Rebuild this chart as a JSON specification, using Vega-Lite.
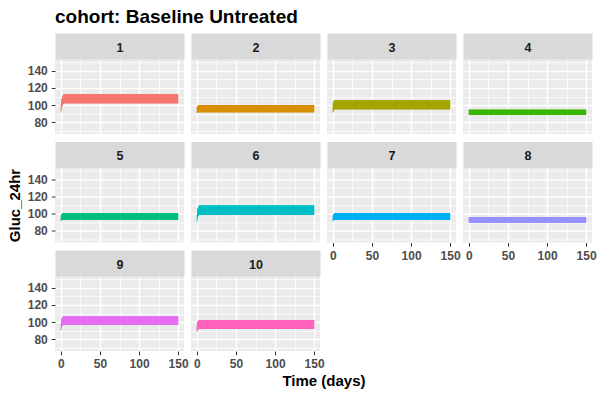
{
"$schema":"https://vega.github.io/schema/vega-lite/v6.json",
"title":{"text":"cohort: Baseline Untreated","anchor":"start","frame":"group","fontSize":19,"fontWeight":"bold","color":"black","font":"Liberation Sans","offset":14},
"padding":{"left":7,"top":8,"right":5,"bottom":5},
"background":"white",
"datasets":{"glu":[
{"patient":"1","t":0,"lo":90,"hi":100},{"patient":"1","t":1,"lo":97,"hi":107},{"patient":"1","t":3,"lo":101.5,"hi":112},{"patient":"1","t":5,"lo":102,"hi":113},{"patient":"1","t":150,"lo":102,"hi":113},
{"patient":"2","t":0,"lo":90,"hi":97},{"patient":"2","t":1,"lo":91.5,"hi":99},{"patient":"2","t":3,"lo":91.5,"hi":100},{"patient":"2","t":150,"lo":91.5,"hi":100},
{"patient":"3","t":0,"lo":90.5,"hi":102},{"patient":"3","t":1,"lo":94,"hi":104.5},{"patient":"3","t":3,"lo":95,"hi":106},{"patient":"3","t":150,"lo":95,"hi":106},
{"patient":"4","t":0,"lo":88.5,"hi":94.5},{"patient":"4","t":150,"lo":88.5,"hi":94.5},
{"patient":"5","t":0,"lo":91,"hi":97},{"patient":"5","t":1,"lo":92,"hi":99.5},{"patient":"5","t":3,"lo":92.6,"hi":100.4},{"patient":"5","t":150,"lo":92.6,"hi":100.4},
{"patient":"6","t":0,"lo":89,"hi":98},{"patient":"6","t":1,"lo":96,"hi":106},{"patient":"6","t":3,"lo":98.5,"hi":109.3},{"patient":"6","t":150,"lo":98.5,"hi":109.3},
{"patient":"7","t":0,"lo":90.7,"hi":97},{"patient":"7","t":1,"lo":92.6,"hi":99.5},{"patient":"7","t":3,"lo":92.6,"hi":100.3},{"patient":"7","t":150,"lo":92.6,"hi":100.3},
{"patient":"8","t":0,"lo":89.1,"hi":95.7},{"patient":"8","t":150,"lo":89.1,"hi":95.7},
{"patient":"9","t":0,"lo":88.7,"hi":97},{"patient":"9","t":1,"lo":95,"hi":104},{"patient":"9","t":3,"lo":96.5,"hi":106.6},{"patient":"9","t":150,"lo":96.5,"hi":106.6},
{"patient":"10","t":0,"lo":88,"hi":96},{"patient":"10","t":1,"lo":91,"hi":100.5},{"patient":"10","t":3,"lo":91.9,"hi":102.3},{"patient":"10","t":150,"lo":91.9,"hi":102.3}
]},
"data":{"name":"glu"},
"columns":4,
"bounds":"flush",
"spacing":{"row":33.5,"column":7},
"concat":[
{"width":129,"height":75,"transform":[{"filter":"datum.patient == '1'"}],"layer":[
 {"mark":{"type":"area"},"encoding":{"x":{"field":"t","type":"quantitative","scale":{"domain":[-7.5,157.5],"nice":false,"zero":false},"axis":{"values":[0,50,100,150],"grid":true,"gridWidth":1.4,"labels":false,"ticks":false,"title":null}},"y":{"field":"lo","type":"quantitative","scale":{"domain":[66,154],"nice":false,"zero":false},"axis":{"values":[80,100,120,140],"grid":true,"gridWidth":1.4,"title":null}},"y2":{"field":"hi"},"color":{"field":"patient","type":"nominal","scale":{"domain":["1","2","3","4","5","6","7","8","9","10"],"range":["#F8766D","#D89000","#A3A500","#39B600","#00BF7D","#00BFC4","#00B0F6","#9590FF","#E76BF3","#FF62BC"]},"legend":null}}},
 {"mark":{"type":"area"},"encoding":{"x":{"field":"t","type":"quantitative","axis":{"orient":"top","grid":false,"labels":false,"ticks":false,"domain":true,"domainColor":"#D9D9D9","domainWidth":26,"offset":13,"title":"1","titleY":1,"titleBaseline":"middle","titleFontSize":12.5,"titleColor":"#1A1A1A"}},"y":{"field":"lo","type":"quantitative","axis":{"orient":"right","values":[70,90,110,130,150],"grid":true,"gridWidth":0.7,"labels":false,"ticks":false,"title":null}},"y2":{"field":"hi"},"color":{"field":"patient","type":"nominal","legend":null}}},
 {"mark":{"type":"area"},"encoding":{"x":{"field":"t","type":"quantitative","axis":{"orient":"bottom","values":[25,75,125],"grid":true,"gridWidth":0.7,"labels":false,"ticks":false,"title":null}},"y":{"field":"lo","type":"quantitative","axis":null},"y2":{"field":"hi"},"color":{"field":"patient","type":"nominal","legend":null}}}
],"resolve":{"axis":{"x":"independent","y":"independent"}}},
{"width":129,"height":75,"transform":[{"filter":"datum.patient == '2'"}],"layer":[
 {"mark":{"type":"area"},"encoding":{"x":{"field":"t","type":"quantitative","scale":{"domain":[-7.5,157.5],"nice":false,"zero":false},"axis":{"values":[0,50,100,150],"grid":true,"gridWidth":1.4,"labels":false,"ticks":false,"title":null}},"y":{"field":"lo","type":"quantitative","scale":{"domain":[66,154],"nice":false,"zero":false},"axis":{"values":[80,100,120,140],"grid":true,"gridWidth":1.4,"labels":false,"ticks":false,"title":null}},"y2":{"field":"hi"},"color":{"field":"patient","type":"nominal","scale":{"domain":["1","2","3","4","5","6","7","8","9","10"],"range":["#F8766D","#D89000","#A3A500","#39B600","#00BF7D","#00BFC4","#00B0F6","#9590FF","#E76BF3","#FF62BC"]},"legend":null}}},
 {"mark":{"type":"area"},"encoding":{"x":{"field":"t","type":"quantitative","axis":{"orient":"top","grid":false,"labels":false,"ticks":false,"domain":true,"domainColor":"#D9D9D9","domainWidth":26,"offset":13,"title":"2","titleY":1,"titleBaseline":"middle","titleFontSize":12.5,"titleColor":"#1A1A1A"}},"y":{"field":"lo","type":"quantitative","axis":{"orient":"right","values":[70,90,110,130,150],"grid":true,"gridWidth":0.7,"labels":false,"ticks":false,"title":null}},"y2":{"field":"hi"},"color":{"field":"patient","type":"nominal","legend":null}}},
 {"mark":{"type":"area"},"encoding":{"x":{"field":"t","type":"quantitative","axis":{"orient":"bottom","values":[25,75,125],"grid":true,"gridWidth":0.7,"labels":false,"ticks":false,"title":null}},"y":{"field":"lo","type":"quantitative","axis":null},"y2":{"field":"hi"},"color":{"field":"patient","type":"nominal","legend":null}}}
],"resolve":{"axis":{"x":"independent","y":"independent"}}},
{"width":129,"height":75,"transform":[{"filter":"datum.patient == '3'"}],"layer":[
 {"mark":{"type":"area"},"encoding":{"x":{"field":"t","type":"quantitative","scale":{"domain":[-7.5,157.5],"nice":false,"zero":false},"axis":{"values":[0,50,100,150],"grid":true,"gridWidth":1.4,"labels":false,"ticks":false,"title":null}},"y":{"field":"lo","type":"quantitative","scale":{"domain":[66,154],"nice":false,"zero":false},"axis":{"values":[80,100,120,140],"grid":true,"gridWidth":1.4,"labels":false,"ticks":false,"title":null}},"y2":{"field":"hi"},"color":{"field":"patient","type":"nominal","scale":{"domain":["1","2","3","4","5","6","7","8","9","10"],"range":["#F8766D","#D89000","#A3A500","#39B600","#00BF7D","#00BFC4","#00B0F6","#9590FF","#E76BF3","#FF62BC"]},"legend":null}}},
 {"mark":{"type":"area"},"encoding":{"x":{"field":"t","type":"quantitative","axis":{"orient":"top","grid":false,"labels":false,"ticks":false,"domain":true,"domainColor":"#D9D9D9","domainWidth":26,"offset":13,"title":"3","titleY":1,"titleBaseline":"middle","titleFontSize":12.5,"titleColor":"#1A1A1A"}},"y":{"field":"lo","type":"quantitative","axis":{"orient":"right","values":[70,90,110,130,150],"grid":true,"gridWidth":0.7,"labels":false,"ticks":false,"title":null}},"y2":{"field":"hi"},"color":{"field":"patient","type":"nominal","legend":null}}},
 {"mark":{"type":"area"},"encoding":{"x":{"field":"t","type":"quantitative","axis":{"orient":"bottom","values":[25,75,125],"grid":true,"gridWidth":0.7,"labels":false,"ticks":false,"title":null}},"y":{"field":"lo","type":"quantitative","axis":null},"y2":{"field":"hi"},"color":{"field":"patient","type":"nominal","legend":null}}}
],"resolve":{"axis":{"x":"independent","y":"independent"}}},
{"width":129,"height":75,"transform":[{"filter":"datum.patient == '4'"}],"layer":[
 {"mark":{"type":"area"},"encoding":{"x":{"field":"t","type":"quantitative","scale":{"domain":[-7.5,157.5],"nice":false,"zero":false},"axis":{"values":[0,50,100,150],"grid":true,"gridWidth":1.4,"labels":false,"ticks":false,"title":null}},"y":{"field":"lo","type":"quantitative","scale":{"domain":[66,154],"nice":false,"zero":false},"axis":{"values":[80,100,120,140],"grid":true,"gridWidth":1.4,"labels":false,"ticks":false,"title":null}},"y2":{"field":"hi"},"color":{"field":"patient","type":"nominal","scale":{"domain":["1","2","3","4","5","6","7","8","9","10"],"range":["#F8766D","#D89000","#A3A500","#39B600","#00BF7D","#00BFC4","#00B0F6","#9590FF","#E76BF3","#FF62BC"]},"legend":null}}},
 {"mark":{"type":"area"},"encoding":{"x":{"field":"t","type":"quantitative","axis":{"orient":"top","grid":false,"labels":false,"ticks":false,"domain":true,"domainColor":"#D9D9D9","domainWidth":26,"offset":13,"title":"4","titleY":1,"titleBaseline":"middle","titleFontSize":12.5,"titleColor":"#1A1A1A"}},"y":{"field":"lo","type":"quantitative","axis":{"orient":"right","values":[70,90,110,130,150],"grid":true,"gridWidth":0.7,"labels":false,"ticks":false,"title":null}},"y2":{"field":"hi"},"color":{"field":"patient","type":"nominal","legend":null}}},
 {"mark":{"type":"area"},"encoding":{"x":{"field":"t","type":"quantitative","axis":{"orient":"bottom","values":[25,75,125],"grid":true,"gridWidth":0.7,"labels":false,"ticks":false,"title":null}},"y":{"field":"lo","type":"quantitative","axis":null},"y2":{"field":"hi"},"color":{"field":"patient","type":"nominal","legend":null}}}
],"resolve":{"axis":{"x":"independent","y":"independent"}}},
{"width":129,"height":75,"transform":[{"filter":"datum.patient == '5'"}],"layer":[
 {"mark":{"type":"area"},"encoding":{"x":{"field":"t","type":"quantitative","scale":{"domain":[-7.5,157.5],"nice":false,"zero":false},"axis":{"values":[0,50,100,150],"grid":true,"gridWidth":1.4,"labels":false,"ticks":false,"title":null}},"y":{"field":"lo","type":"quantitative","scale":{"domain":[66,154],"nice":false,"zero":false},"axis":{"values":[80,100,120,140],"grid":true,"gridWidth":1.4,"title":"Gluc_24hr","titlePadding":5}},"y2":{"field":"hi"},"color":{"field":"patient","type":"nominal","scale":{"domain":["1","2","3","4","5","6","7","8","9","10"],"range":["#F8766D","#D89000","#A3A500","#39B600","#00BF7D","#00BFC4","#00B0F6","#9590FF","#E76BF3","#FF62BC"]},"legend":null}}},
 {"mark":{"type":"area"},"encoding":{"x":{"field":"t","type":"quantitative","axis":{"orient":"top","grid":false,"labels":false,"ticks":false,"domain":true,"domainColor":"#D9D9D9","domainWidth":26,"offset":13,"title":"5","titleY":1,"titleBaseline":"middle","titleFontSize":12.5,"titleColor":"#1A1A1A"}},"y":{"field":"lo","type":"quantitative","axis":{"orient":"right","values":[70,90,110,130,150],"grid":true,"gridWidth":0.7,"labels":false,"ticks":false,"title":null}},"y2":{"field":"hi"},"color":{"field":"patient","type":"nominal","legend":null}}},
 {"mark":{"type":"area"},"encoding":{"x":{"field":"t","type":"quantitative","axis":{"orient":"bottom","values":[25,75,125],"grid":true,"gridWidth":0.7,"labels":false,"ticks":false,"title":null}},"y":{"field":"lo","type":"quantitative","axis":null},"y2":{"field":"hi"},"color":{"field":"patient","type":"nominal","legend":null}}}
],"resolve":{"axis":{"x":"independent","y":"independent"}}},
{"width":129,"height":75,"transform":[{"filter":"datum.patient == '6'"}],"layer":[
 {"mark":{"type":"area"},"encoding":{"x":{"field":"t","type":"quantitative","scale":{"domain":[-7.5,157.5],"nice":false,"zero":false},"axis":{"values":[0,50,100,150],"grid":true,"gridWidth":1.4,"labels":false,"ticks":false,"title":null}},"y":{"field":"lo","type":"quantitative","scale":{"domain":[66,154],"nice":false,"zero":false},"axis":{"values":[80,100,120,140],"grid":true,"gridWidth":1.4,"labels":false,"ticks":false,"title":null}},"y2":{"field":"hi"},"color":{"field":"patient","type":"nominal","scale":{"domain":["1","2","3","4","5","6","7","8","9","10"],"range":["#F8766D","#D89000","#A3A500","#39B600","#00BF7D","#00BFC4","#00B0F6","#9590FF","#E76BF3","#FF62BC"]},"legend":null}}},
 {"mark":{"type":"area"},"encoding":{"x":{"field":"t","type":"quantitative","axis":{"orient":"top","grid":false,"labels":false,"ticks":false,"domain":true,"domainColor":"#D9D9D9","domainWidth":26,"offset":13,"title":"6","titleY":1,"titleBaseline":"middle","titleFontSize":12.5,"titleColor":"#1A1A1A"}},"y":{"field":"lo","type":"quantitative","axis":{"orient":"right","values":[70,90,110,130,150],"grid":true,"gridWidth":0.7,"labels":false,"ticks":false,"title":null}},"y2":{"field":"hi"},"color":{"field":"patient","type":"nominal","legend":null}}},
 {"mark":{"type":"area"},"encoding":{"x":{"field":"t","type":"quantitative","axis":{"orient":"bottom","values":[25,75,125],"grid":true,"gridWidth":0.7,"labels":false,"ticks":false,"title":null}},"y":{"field":"lo","type":"quantitative","axis":null},"y2":{"field":"hi"},"color":{"field":"patient","type":"nominal","legend":null}}}
],"resolve":{"axis":{"x":"independent","y":"independent"}}},
{"width":129,"height":75,"transform":[{"filter":"datum.patient == '7'"}],"layer":[
 {"mark":{"type":"area"},"encoding":{"x":{"field":"t","type":"quantitative","scale":{"domain":[-7.5,157.5],"nice":false,"zero":false},"axis":{"values":[0,50,100,150],"grid":true,"gridWidth":1.4,"title":null}},"y":{"field":"lo","type":"quantitative","scale":{"domain":[66,154],"nice":false,"zero":false},"axis":{"values":[80,100,120,140],"grid":true,"gridWidth":1.4,"labels":false,"ticks":false,"title":null}},"y2":{"field":"hi"},"color":{"field":"patient","type":"nominal","scale":{"domain":["1","2","3","4","5","6","7","8","9","10"],"range":["#F8766D","#D89000","#A3A500","#39B600","#00BF7D","#00BFC4","#00B0F6","#9590FF","#E76BF3","#FF62BC"]},"legend":null}}},
 {"mark":{"type":"area"},"encoding":{"x":{"field":"t","type":"quantitative","axis":{"orient":"top","grid":false,"labels":false,"ticks":false,"domain":true,"domainColor":"#D9D9D9","domainWidth":26,"offset":13,"title":"7","titleY":1,"titleBaseline":"middle","titleFontSize":12.5,"titleColor":"#1A1A1A"}},"y":{"field":"lo","type":"quantitative","axis":{"orient":"right","values":[70,90,110,130,150],"grid":true,"gridWidth":0.7,"labels":false,"ticks":false,"title":null}},"y2":{"field":"hi"},"color":{"field":"patient","type":"nominal","legend":null}}},
 {"mark":{"type":"area"},"encoding":{"x":{"field":"t","type":"quantitative","axis":{"orient":"bottom","values":[25,75,125],"grid":true,"gridWidth":0.7,"labels":false,"ticks":false,"title":null}},"y":{"field":"lo","type":"quantitative","axis":null},"y2":{"field":"hi"},"color":{"field":"patient","type":"nominal","legend":null}}}
],"resolve":{"axis":{"x":"independent","y":"independent"}}},
{"width":129,"height":75,"transform":[{"filter":"datum.patient == '8'"}],"layer":[
 {"mark":{"type":"area"},"encoding":{"x":{"field":"t","type":"quantitative","scale":{"domain":[-7.5,157.5],"nice":false,"zero":false},"axis":{"values":[0,50,100,150],"grid":true,"gridWidth":1.4,"title":null}},"y":{"field":"lo","type":"quantitative","scale":{"domain":[66,154],"nice":false,"zero":false},"axis":{"values":[80,100,120,140],"grid":true,"gridWidth":1.4,"labels":false,"ticks":false,"title":null}},"y2":{"field":"hi"},"color":{"field":"patient","type":"nominal","scale":{"domain":["1","2","3","4","5","6","7","8","9","10"],"range":["#F8766D","#D89000","#A3A500","#39B600","#00BF7D","#00BFC4","#00B0F6","#9590FF","#E76BF3","#FF62BC"]},"legend":null}}},
 {"mark":{"type":"area"},"encoding":{"x":{"field":"t","type":"quantitative","axis":{"orient":"top","grid":false,"labels":false,"ticks":false,"domain":true,"domainColor":"#D9D9D9","domainWidth":26,"offset":13,"title":"8","titleY":1,"titleBaseline":"middle","titleFontSize":12.5,"titleColor":"#1A1A1A"}},"y":{"field":"lo","type":"quantitative","axis":{"orient":"right","values":[70,90,110,130,150],"grid":true,"gridWidth":0.7,"labels":false,"ticks":false,"title":null}},"y2":{"field":"hi"},"color":{"field":"patient","type":"nominal","legend":null}}},
 {"mark":{"type":"area"},"encoding":{"x":{"field":"t","type":"quantitative","axis":{"orient":"bottom","values":[25,75,125],"grid":true,"gridWidth":0.7,"labels":false,"ticks":false,"title":null}},"y":{"field":"lo","type":"quantitative","axis":null},"y2":{"field":"hi"},"color":{"field":"patient","type":"nominal","legend":null}}}
],"resolve":{"axis":{"x":"independent","y":"independent"}}},
{"width":129,"height":75,"transform":[{"filter":"datum.patient == '9'"}],"layer":[
 {"mark":{"type":"area"},"encoding":{"x":{"field":"t","type":"quantitative","scale":{"domain":[-7.5,157.5],"nice":false,"zero":false},"axis":{"values":[0,50,100,150],"grid":true,"gridWidth":1.4,"title":null}},"y":{"field":"lo","type":"quantitative","scale":{"domain":[66,154],"nice":false,"zero":false},"axis":{"values":[80,100,120,140],"grid":true,"gridWidth":1.4,"title":null}},"y2":{"field":"hi"},"color":{"field":"patient","type":"nominal","scale":{"domain":["1","2","3","4","5","6","7","8","9","10"],"range":["#F8766D","#D89000","#A3A500","#39B600","#00BF7D","#00BFC4","#00B0F6","#9590FF","#E76BF3","#FF62BC"]},"legend":null}}},
 {"mark":{"type":"area"},"encoding":{"x":{"field":"t","type":"quantitative","axis":{"orient":"top","grid":false,"labels":false,"ticks":false,"domain":true,"domainColor":"#D9D9D9","domainWidth":26,"offset":13,"title":"9","titleY":1,"titleBaseline":"middle","titleFontSize":12.5,"titleColor":"#1A1A1A"}},"y":{"field":"lo","type":"quantitative","axis":{"orient":"right","values":[70,90,110,130,150],"grid":true,"gridWidth":0.7,"labels":false,"ticks":false,"title":null}},"y2":{"field":"hi"},"color":{"field":"patient","type":"nominal","legend":null}}},
 {"mark":{"type":"area"},"encoding":{"x":{"field":"t","type":"quantitative","axis":{"orient":"bottom","values":[25,75,125],"grid":true,"gridWidth":0.7,"labels":false,"ticks":false,"title":null}},"y":{"field":"lo","type":"quantitative","axis":null},"y2":{"field":"hi"},"color":{"field":"patient","type":"nominal","legend":null}}}
],"resolve":{"axis":{"x":"independent","y":"independent"}}},
{"width":129,"height":75,"transform":[{"filter":"datum.patient == '10'"}],"layer":[
 {"mark":{"type":"area"},"encoding":{"x":{"field":"t","type":"quantitative","scale":{"domain":[-7.5,157.5],"nice":false,"zero":false},"axis":{"values":[0,50,100,150],"grid":true,"gridWidth":1.4,"title":"Time (days)","titleX":132.5,"titlePadding":4}},"y":{"field":"lo","type":"quantitative","scale":{"domain":[66,154],"nice":false,"zero":false},"axis":{"values":[80,100,120,140],"grid":true,"gridWidth":1.4,"labels":false,"ticks":false,"title":null}},"y2":{"field":"hi"},"color":{"field":"patient","type":"nominal","scale":{"domain":["1","2","3","4","5","6","7","8","9","10"],"range":["#F8766D","#D89000","#A3A500","#39B600","#00BF7D","#00BFC4","#00B0F6","#9590FF","#E76BF3","#FF62BC"]},"legend":null}}},
 {"mark":{"type":"area"},"encoding":{"x":{"field":"t","type":"quantitative","axis":{"orient":"top","grid":false,"labels":false,"ticks":false,"domain":true,"domainColor":"#D9D9D9","domainWidth":26,"offset":13,"title":"10","titleY":1,"titleBaseline":"middle","titleFontSize":12.5,"titleColor":"#1A1A1A"}},"y":{"field":"lo","type":"quantitative","axis":{"orient":"right","values":[70,90,110,130,150],"grid":true,"gridWidth":0.7,"labels":false,"ticks":false,"title":null}},"y2":{"field":"hi"},"color":{"field":"patient","type":"nominal","legend":null}}},
 {"mark":{"type":"area"},"encoding":{"x":{"field":"t","type":"quantitative","axis":{"orient":"bottom","values":[25,75,125],"grid":true,"gridWidth":0.7,"labels":false,"ticks":false,"title":null}},"y":{"field":"lo","type":"quantitative","axis":null},"y2":{"field":"hi"},"color":{"field":"patient","type":"nominal","legend":null}}}
],"resolve":{"axis":{"x":"independent","y":"independent"}}}
],
"config":{
 "font":"Liberation Sans",
 "view":{"stroke":null,"fill":"#EBEBEB"},
 "axis":{"domain":false,"gridColor":"white","labelFont":"Liberation Sans","labelFontSize":12,"labelFontWeight":"bold","labelColor":"#4D4D4D","labelPadding":4,"tickColor":"#333333","tickSize":3.7,"tickWidth":1,"titleFont":"Liberation Sans","titleFontSize":15,"titleFontWeight":"bold","titleColor":"black"}
}
}
